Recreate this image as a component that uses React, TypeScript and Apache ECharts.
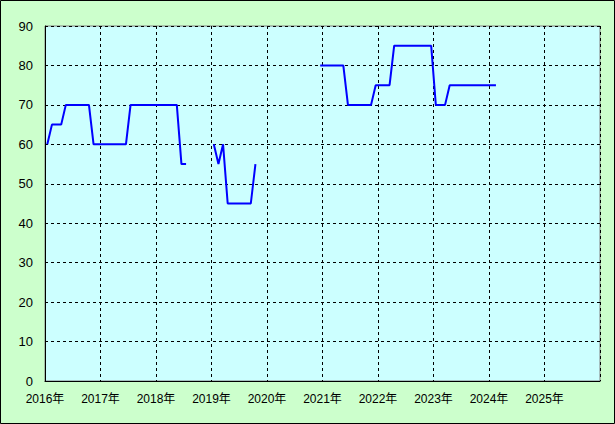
import React, { useEffect, useRef } from "react";
import * as echarts from "echarts";

// Monthly values (Jan..Dec), null = no data
const startYear = 2016;
const yearLabels = ["2016", "2017", "2018", "2019", "2020", "2021", "2022", "2023", "2024", "2025", "2026"];
const y2016 = [60, 65, 65, 65, 70, 70, 70, 70, 70, 70, 60, 60];
const y2017 = [60, 60, 60, 60, 60, 60, 70, 70, 70, 70, 70, 70];
const y2018 = [70, 70, 70, 70, 70, 55, 55, null, null, null, null, null];
const y2019 = [60, 55, 60, 45, 45, 45, 45, 45, 45, 55, null, null];
const y2020 = [null, null, null, null, null, null, null, null, null, null, null, 80];
const y2021 = [80, 80, 80, 80, 80, 70, 70, 70, 70, 70, 70, 75];
const y2022 = [75, 75, 75, 85, 85, 85, 85, 85, 85, 85, 85, 85];
const y2023 = [70, 70, 70, 75, 75, 75, 75, 75, 75, 75, 75, 75];
const y2024 = [75, 75];
const yTicks = [0, 10, 20, 30, 40, 50, 60, 70, 80, 90];

const years = [y2016, y2017, y2018, y2019, y2020, y2021, y2022, y2023, y2024];

export default function App() {
  const ref = useRef<HTMLDivElement>(null);
  useEffect(() => {
    document.body.style.margin = "0";
    const chart = echarts.init(ref.current!, null, { renderer: "svg" });
    const data: any[] = [];
    years.forEach((arr, yi) => {
      arr.forEach((v, mi) => {
        data.push([yi * 12 + mi + 0.5, v]);
      });
    });
    const fontX = "'Liberation Sans', 'Noto Sans CJK JP', sans-serif";
    chart.setOption({
      animation: false,
      backgroundColor: "#CCFFCC",
      graphic: [
        {
          type: "rect",
          shape: { x: 0.5, y: 0.5, width: 614, height: 423 },
          style: { fill: "none", stroke: "#000", lineWidth: 1 },
          silent: true,
          z: 100,
        },
      ],
      grid: {
        left: 45,
        right: 15,
        top: 26,
        bottom: 43,
        show: true,
        backgroundColor: "#CCFFFF",
        borderColor: "#808080",
        borderWidth: 1,
      },
      xAxis: {
        type: "value",
        min: 0,
        max: (yearLabels.length - 1) * 12,
        interval: 12,
        axisLine: { show: true, onZero: false, lineStyle: { color: "#000", width: 1 } },
        axisTick: { show: false },
        splitLine: { show: true, lineStyle: { color: "#000", type: [3, 3], width: 1 } },
        axisLabel: {
          color: "#000",
          fontSize: 12,
          fontFamily: fontX,
          margin: 12,
          showMaxLabel: false,
          formatter: (v: number) => {
            const i = Math.round(v / 12);
            return yearLabels[i] + "年";
          },
        },
      },
      yAxis: {
        type: "value",
        min: yTicks[0],
        max: yTicks[yTicks.length - 1],
        interval: 10,
        axisLine: { show: true, lineStyle: { color: "#000", width: 1 } },
        axisTick: { show: false },
        splitLine: { show: true, lineStyle: { color: "#000", type: [3, 3], width: 1 } },
        axisLabel: {
          color: "#000",
          fontSize: 13,
          fontFamily: fontX,
          margin: 12,
        },
      },
      series: [
        {
          type: "line",
          data,
          showSymbol: false,
          connectNulls: false,
          lineStyle: { color: "#0000FF", width: 2 },
          itemStyle: { color: "#0000FF" },
          z: 5,
        },
      ],
    });
    return () => chart.dispose();
  }, []);
  return <div ref={ref} style={{ width: 615, height: 424 }} />;
}
